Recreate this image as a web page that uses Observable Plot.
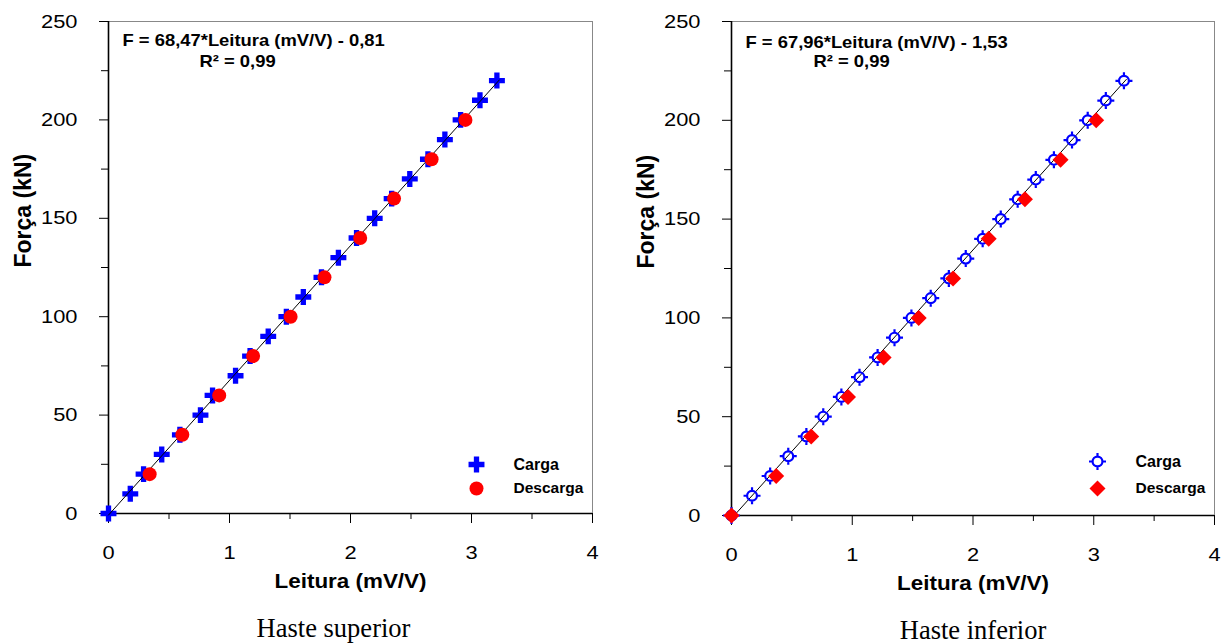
<!DOCTYPE html>
<html><head><meta charset="utf-8">
<script src="https://cdn.jsdelivr.net/npm/d3@7"></script>
<script src="https://cdn.jsdelivr.net/npm/@observablehq/plot@0.6"></script>
<style>
html,body{margin:0;padding:0;background:#fff;}
#wrap{position:relative;width:1229px;height:644px;overflow:hidden;}
#wrap svg{position:absolute;top:0;}
</style></head><body><div id="wrap"></div>
<script>
// ---------- data ----------
const forceCarga = [0,10,20,30,40,50,60,70,80,90,100,110,120,130,140,150,160,170,180,190,200,210,220];
const leituraCargaSup = [0,0.18,0.29,0.44,0.59,0.76,0.86,1.05,1.17,1.32,1.47,1.61,1.76,1.90,2.05,2.20,2.34,2.49,2.64,2.78,2.91,3.07,3.21];
const forceDescargaSup = [20,40,60,80,100,120,140,160,180,200];
const leituraDescargaSup = [0.34,0.61,0.915,1.195,1.505,1.785,2.08,2.36,2.67,2.95];
const leituraCargaInf = [0,0.17,0.32,0.47,0.62,0.76,0.91,1.06,1.21,1.35,1.49,1.65,1.80,1.94,2.08,2.23,2.37,2.52,2.67,2.82,2.95,3.10,3.25];
const forceDescargaInf = [0,20,40,60,80,100,120,140,160,180,200];
const leituraDescargaInf = [0,0.37,0.66,0.965,1.26,1.55,1.835,2.13,2.43,2.725,3.02];
const fitSupX = [0,3.23], fitSupY = [-0.81,220.3];
const fitInfX = [0,3.27], fitInfY = [-1.53,220.7];
const eqSup = "F = 68,47*Leitura (mV/V) - 0,81";
const eqInf = "F = 67,96*Leitura (mV/V) - 1,53";
const r2Text = "R² = 0,99";
const seriesNames = ["Carga","Descarga"];
const xLabel = "Leitura (mV/V)";
const yLabel = "Força (kN)";
const captions = ["Haste superior","Haste inferior"];
const xTicks = [0,1,2,3,4];
const xMinor = [0.5,1.5,2.5,3.5];
const yTicks = [0,50,100,150,200,250];
const yMinor = [25,75,125,175,225];

const pts = (xs, ys) => xs.map((x,i) => ({x, y: ys[i]}));
const cargaSup = pts(leituraCargaSup, forceCarga);
const descSup = pts(leituraDescargaSup, forceDescargaSup);
const cargaInf = pts(leituraCargaInf, forceCarga);
const descInf = pts(leituraDescargaInf, forceDescargaInf);
const fitSup = pts(fitSupX, fitSupY);
const fitInf = pts(fitInfX, fitInfY);

const SANS = "'Liberation Sans', Arial, sans-serif";
const BLUE = "#0000ff", RED = "#ff0000";

const ringTick = {
  draw(ctx, size) {
    const R = Math.sqrt(size / Math.PI);
    const c = R * 0.58;
    ctx.moveTo(c, 0); ctx.arc(0, 0, c, 0, 2 * Math.PI);
    ctx.moveTo(c, 0); ctx.lineTo(R, 0);
    ctx.moveTo(-c, 0); ctx.lineTo(-R, 0);
    ctx.moveTo(0, c); ctx.lineTo(0, R);
    ctx.moveTo(0, -c); ctx.lineTo(0, -R);
  }
};
const diamond = {
  draw(ctx, size) {
    const R = Math.sqrt(size / Math.PI);
    ctx.moveTo(0, -R); ctx.lineTo(R, 0); ctx.lineTo(0, R); ctx.lineTo(-R, 0); ctx.closePath();
  }
};

function frameMarks() {
  return [
    Plot.axisY(yMinor, {tickSize: 7, tickFormat: () => "", label: null}),
    Plot.axisY(yTicks, {tickSize: 9, tickPadding: 22, fontSize: 19, tickFormat: d => String(d), label: null}),
    Plot.axisX(xMinor, {tickSize: 6, tickFormat: () => "", label: null}),
    Plot.axisX(xTicks, {tickSize: 10, tickPadding: 22, fontSize: 19, tickFormat: d => String(d), label: null}),
    Plot.ruleY([250], {stroke: "#888", strokeWidth: 1}),
    Plot.ruleX([4], {stroke: "#888", strokeWidth: 1}),
    Plot.ruleY([0], {stroke: "#000", strokeWidth: 1.6}),
    Plot.ruleX([0], {stroke: "#000", strokeWidth: 1.6}),
  ];
}
function textMarks(o) {
  const t = d => d;
  return [
    Plot.text([o.eq], {text: t, frameAnchor: "top-left", dx: 14, dy: o.eqDy, textAnchor: "start", lineAnchor: "middle", fontSize: 16, fontWeight: "bold"}),
    Plot.text([r2Text], {text: t, frameAnchor: "top-left", dx: o.r2Dx, dy: 40, textAnchor: "start", lineAnchor: "middle", fontSize: 16, fontWeight: "bold"}),
    Plot.text([xLabel], {text: t, frameAnchor: "bottom", dy: 68, lineAnchor: "middle", fontSize: 19.5, fontWeight: "bold"}),
    Plot.text([yLabel], {text: t, frameAnchor: "left", dx: o.ylDx, rotate: -90, lineAnchor: "middle", fontSize: 23, fontWeight: "bold"}),
    Plot.text([o.caption], {text: t, frameAnchor: "bottom", dx: o.capDx, dy: o.capDy, lineAnchor: "middle", fontSize: 26.5, fontFamily: "'Liberation Serif', 'Times New Roman', serif"}),
    Plot.text([seriesNames[0]], {text: t, frameAnchor: "bottom-right", dx: -79, dy: o.lg1, textAnchor: "start", lineAnchor: "middle", fontSize: 16, fontWeight: "bold"}),
    Plot.text([seriesNames[1]], {text: t, frameAnchor: "bottom-right", dx: -79, dy: o.lg2, textAnchor: "start", lineAnchor: "middle", fontSize: 15.5, fontWeight: "bold"}),
  ];
}

const sup = Plot.plot({
  width: 614, height: 644,
  marginLeft: 108, marginRight: 22, marginTop: 21, marginBottom: 131,
  x: {domain: [0, 4]}, y: {domain: [0, 250]},
  style: {fontFamily: SANS, color: "#000", background: "transparent", overflow: "visible"},
  marks: [
    ...frameMarks(),
    Plot.dot(cargaSup, {x: "x", y: "y", symbol: "cross", r: 6.7, fill: BLUE}),
    Plot.line(fitSup, {x: "x", y: "y", stroke: "#000", strokeWidth: 1}),
    Plot.dot(descSup, {x: "x", y: "y", symbol: "circle", r: 7, fill: RED}),
    Plot.dot([0], {frameAnchor: "bottom-right", dx: -116, dy: -49, symbol: "cross", r: 6.7, fill: BLUE}),
    Plot.dot([0], {frameAnchor: "bottom-right", dx: -116, dy: -25, symbol: "circle", r: 7, fill: RED}),
    ...textMarks({eq: eqSup, eqDy: 19, r2Dx: 91, ylDx: -85, caption: captions[0], capDx: -17, capDy: 115, lg1: -49, lg2: -25})
  ]
});

const inf = Plot.plot({
  width: 615, height: 644,
  marginLeft: 117, marginRight: 15, marginTop: 21, marginBottom: 129,
  x: {domain: [0, 4]}, y: {domain: [0, 250]},
  style: {fontFamily: SANS, color: "#000", background: "transparent", overflow: "visible"},
  marks: [
    ...frameMarks(),
    Plot.line(fitInf, {x: "x", y: "y", stroke: "#000", strokeWidth: 1}),
    Plot.dot(cargaInf, {x: "x", y: "y", symbol: ringTick, r: 8.5, fill: "none", stroke: BLUE, strokeWidth: 2.2}),
    Plot.dot(descInf, {x: "x", y: "y", symbol: diamond, r: 8, fill: RED}),
    Plot.dot([0], {frameAnchor: "bottom-right", dx: -117, dy: -54, symbol: ringTick, r: 8.5, fill: "none", stroke: BLUE, strokeWidth: 2.2}),
    Plot.dot([0], {frameAnchor: "bottom-right", dx: -117, dy: -27, symbol: diamond, r: 8, fill: RED}),
    ...textMarks({eq: eqInf, eqDy: 21, r2Dx: 82, ylDx: -85, caption: captions[1], capDx: 0, capDy: 115, lg1: -54, lg2: -27})
  ]
});

const wrap = document.getElementById("wrap");
sup.style.left = "0px";
inf.style.left = "614px";
wrap.appendChild(sup);
wrap.appendChild(inf);

// horizontal stretch of sans-serif labels to match the reference's wide lettering
const noStretch = new Set([yLabel, ...captions, ...seriesNames]);
function stretchTexts(svg, s) {
  svg.querySelectorAll("text").forEach(t => {
    if (noStretch.has(t.textContent)) return;
    const b = t.getBBox();
    if (!b.width) return;
    const anchor = getComputedStyle(t).textAnchor;
    const ox = anchor === "start" ? b.x : anchor === "end" ? b.x + b.width : b.x + b.width / 2;
    const prev = t.getAttribute("transform") || "";
    t.setAttribute("transform", `${prev} translate(${ox} 0) scale(${s} 1) translate(${-ox} 0)`);
  });
}
stretchTexts(sup, 1.15);
stretchTexts(inf, 1.15);
</script></body></html>
